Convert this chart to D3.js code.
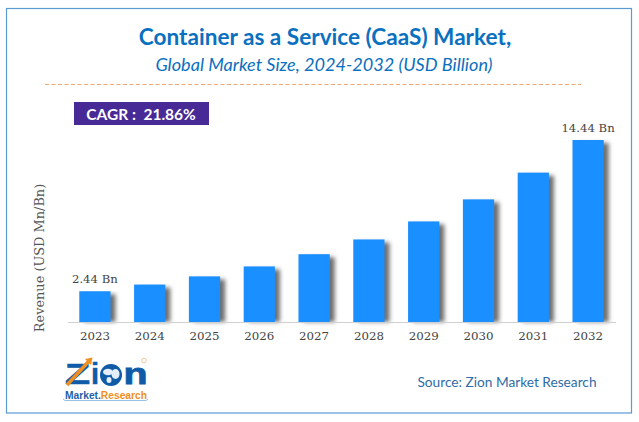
<!DOCTYPE html>
<html>
<head>
<meta charset="utf-8">
<script src="https://cdn.jsdelivr.net/npm/d3@7"></script>
<style>
  html, body { margin: 0; padding: 0; background: #fff; }
  svg { display: block; }
</style>
</head>
<body>
<div id="chart"></div>
<script>
const years = ["2023", "2024", "2025", "2026", "2027", "2028", "2029", "2030", "2031", "2032"];
const revenue = [2.44, 2.97, 3.62, 4.41, 5.38, 6.55, 7.98, 9.73, 11.85, 14.44];
const endLabels = {"2023": "2.44 Bn", "2032": "14.44 Bn"};

const width = 639, height = 422;
const margin = {top: 140, right: 23.5, bottom: 100, left: 67.5};

const svg = d3.select("#chart").append("svg")
    .attr("width", width)
    .attr("height", height);

// soft shadow to the right of the bars
const shadow = svg.append("defs").append("filter")
    .attr("id", "barShadow")
    .attr("x", "-30%").attr("y", "-10%")
    .attr("width", "180%").attr("height", "120%");
shadow.append("feGaussianBlur").attr("stdDeviation", 2.2);

// outer frame
svg.append("rect")
    .attr("x", 6.5).attr("y", 8.5)
    .attr("width", 625).attr("height", 404.5)
    .attr("fill", "none")
    .attr("stroke", "#5b9bd5")
    .attr("stroke-width", 1.2);

// titles
svg.append("text")
    .attr("x", 325).attr("y", 45)
    .attr("text-anchor", "middle")
    .attr("font-family", "Lato")
    .attr("font-weight", 700)
    .attr("font-size", 22.6)
    .attr("fill", "#0a70c0")
    .text("Container as a Service (CaaS) Market,");

svg.append("text")
    .attr("x", 324).attr("y", 70.5)
    .attr("text-anchor", "middle")
    .attr("font-family", "Lato")
    .attr("font-style", "italic")
    .attr("font-size", 18.1)
    .attr("fill", "#0a70c0")
    .text("Global Market Size, 2024-2032 (USD Billion)");

svg.append("line")
    .attr("x1", 45).attr("x2", 581)
    .attr("y1", 84.5).attr("y2", 84.5)
    .attr("stroke", "#f2a672")
    .attr("stroke-width", 1)
    .attr("stroke-dasharray", "4,2.5");

// CAGR badge
svg.append("rect")
    .attr("x", 74).attr("y", 102)
    .attr("width", 135).attr("height", 23)
    .attr("fill", "#482a96");

svg.append("text")
    .attr("x", 141).attr("y", 120)
    .attr("text-anchor", "middle")
    .attr("font-family", "Lato")
    .attr("font-weight", 700)
    .attr("font-size", 15.5)
    .attr("fill", "#fff")
    .attr("xml:space", "preserve")
    .text("CAGR :  21.86%");

// scales and axes
const x = d3.scaleBand()
    .domain(years)
    .range([margin.left, width - margin.right])
    .paddingInner(0.43)
    .paddingOuter(0.215);

const y = d3.scaleLinear()
    .domain([0, 14.44])
    .range([height - margin.bottom, margin.top]);

const bars = svg.append("g");

bars.selectAll(".barShadow")
    .data(revenue)
    .enter().append("rect")
    .attr("class", "barShadow")
    .attr("x", (d, i) => x(years[i]) + 5)
    .attr("y", d => y(d) + 3)
    .attr("width", x.bandwidth())
    .attr("height", d => y(0) - y(d) - 3)
    .attr("fill", "#6e6e6e")
    .attr("filter", "url(#barShadow)");

bars.selectAll(".bar")
    .data(revenue)
    .enter().append("rect")
    .attr("class", "bar")
    .attr("x", (d, i) => x(years[i]))
    .attr("y", d => y(d))
    .attr("width", x.bandwidth())
    .attr("height", d => y(0) - y(d))
    .attr("fill", "#1a8fff");

const xAxis = svg.append("g")
    .attr("transform", `translate(0, ${y(0)})`)
    .call(d3.axisBottom(x).tickSize(0).tickPadding(10));

xAxis.select(".domain").attr("stroke", "#d0d0d0").attr("stroke-width", 1);
xAxis.selectAll("text")
    .attr("font-family", "DejaVu Serif")
    .attr("font-size", 11.8)
    .attr("fill", "#444");

// value labels on the first and last bars
svg.selectAll(".valueLabel")
    .data(years.filter(d => endLabels[d]))
    .enter().append("text")
    .attr("class", "valueLabel")
    .attr("x", d => x(d) + x.bandwidth() / 2)
    .attr("y", d => y(revenue[years.indexOf(d)]) - 8.5)
    .attr("text-anchor", "middle")
    .attr("font-family", "DejaVu Serif")
    .attr("font-size", 11.7)
    .attr("fill", "#444")
    .text(d => endLabels[d]);

svg.append("text")
    .attr("transform", "translate(44, 258) rotate(-90)")
    .attr("text-anchor", "middle")
    .attr("font-family", "DejaVu Serif")
    .attr("font-size", 12.9)
    .attr("fill", "#555")
    .text("Revenue (USD Mn/Bn)");

// source
svg.append("text")
    .attr("x", 507).attr("y", 387)
    .attr("text-anchor", "middle")
    .attr("font-family", "Lato")
    .attr("font-size", 13.7)
    .attr("fill", "#2f6ca8")
    .text("Source: Zion Market Research");

// logo
const logo = svg.append("g")
    .attr("font-family", "Liberation Sans")
    .attr("font-weight", 700)
    .attr("fill", "#0f5ba7");

logo.append("text")
    .attr("x", 65).attr("y", 384)
    .attr("font-size", 29)
    .attr("textLength", 25)
    .attr("lengthAdjust", "spacingAndGlyphs")
    .attr("stroke", "#0f5ba7")
    .attr("stroke-width", 0.7)
    .text("Z");

// orange arrow through the Z
const arrowLine = d3.line();
logo.append("path")
    .attr("d", arrowLine([[67, 385], [89, 361]]))
    .attr("stroke", "#f09020")
    .attr("stroke-width", 3.5)
    .attr("fill", "none");
logo.append("path")
    .attr("d", arrowLine([[85, 359], [92.5, 357.5], [91, 365]]) + "Z")
    .attr("fill", "#f09020");

logo.append("text")
    .attr("x", 91).attr("y", 384)
    .attr("font-size", 29)
    .attr("stroke", "#0f5ba7")
    .attr("stroke-width", 0.5)
    .text("i");

// globe
const globe = logo.append("g").attr("transform", "translate(111, 375)");
globe.append("circle").attr("r", 11).attr("fill", "#0f5ba7");
globe.append("ellipse")
    .attr("cx", -3).attr("cy", -3)
    .attr("rx", 5).attr("ry", 3.2)
    .attr("fill", "#e4eef8");
globe.append("ellipse")
    .attr("cx", 4.5).attr("cy", -1)
    .attr("rx", 4).attr("ry", 5)
    .attr("fill", "#e4eef8");
globe.append("ellipse")
    .attr("cx", -2).attr("cy", 5)
    .attr("rx", 2.5).attr("ry", 3)
    .attr("fill", "#e4eef8");

logo.append("text")
    .attr("x", 123.5).attr("y", 384)
    .attr("font-size", 29)
    .attr("textLength", 24)
    .attr("lengthAdjust", "spacingAndGlyphs")
    .attr("stroke", "#0f5ba7")
    .attr("stroke-width", 0.8)
    .text("n");

logo.append("circle")
    .attr("cx", 144).attr("cy", 360.5)
    .attr("r", 2.3)
    .attr("fill", "none")
    .attr("stroke", "#f3b77f")
    .attr("stroke-width", 0.8);

const tagline = logo.append("text")
    .attr("x", 65).attr("y", 399)
    .attr("font-size", 10)
    .attr("textLength", 82)
    .attr("lengthAdjust", "spacingAndGlyphs");
tagline.append("tspan").attr("fill", "#1f5fa8").text("Market.");
tagline.append("tspan").attr("fill", "#f09020").text("Research");

logo.append("path")
    .attr("d", arrowLine([[63, 399], [65, 400.5], [146, 400.5], [148, 399]]))
    .attr("fill", "none")
    .attr("stroke", "#7fb0de")
    .attr("stroke-width", 0.8);
</script>
</body>
</html>
